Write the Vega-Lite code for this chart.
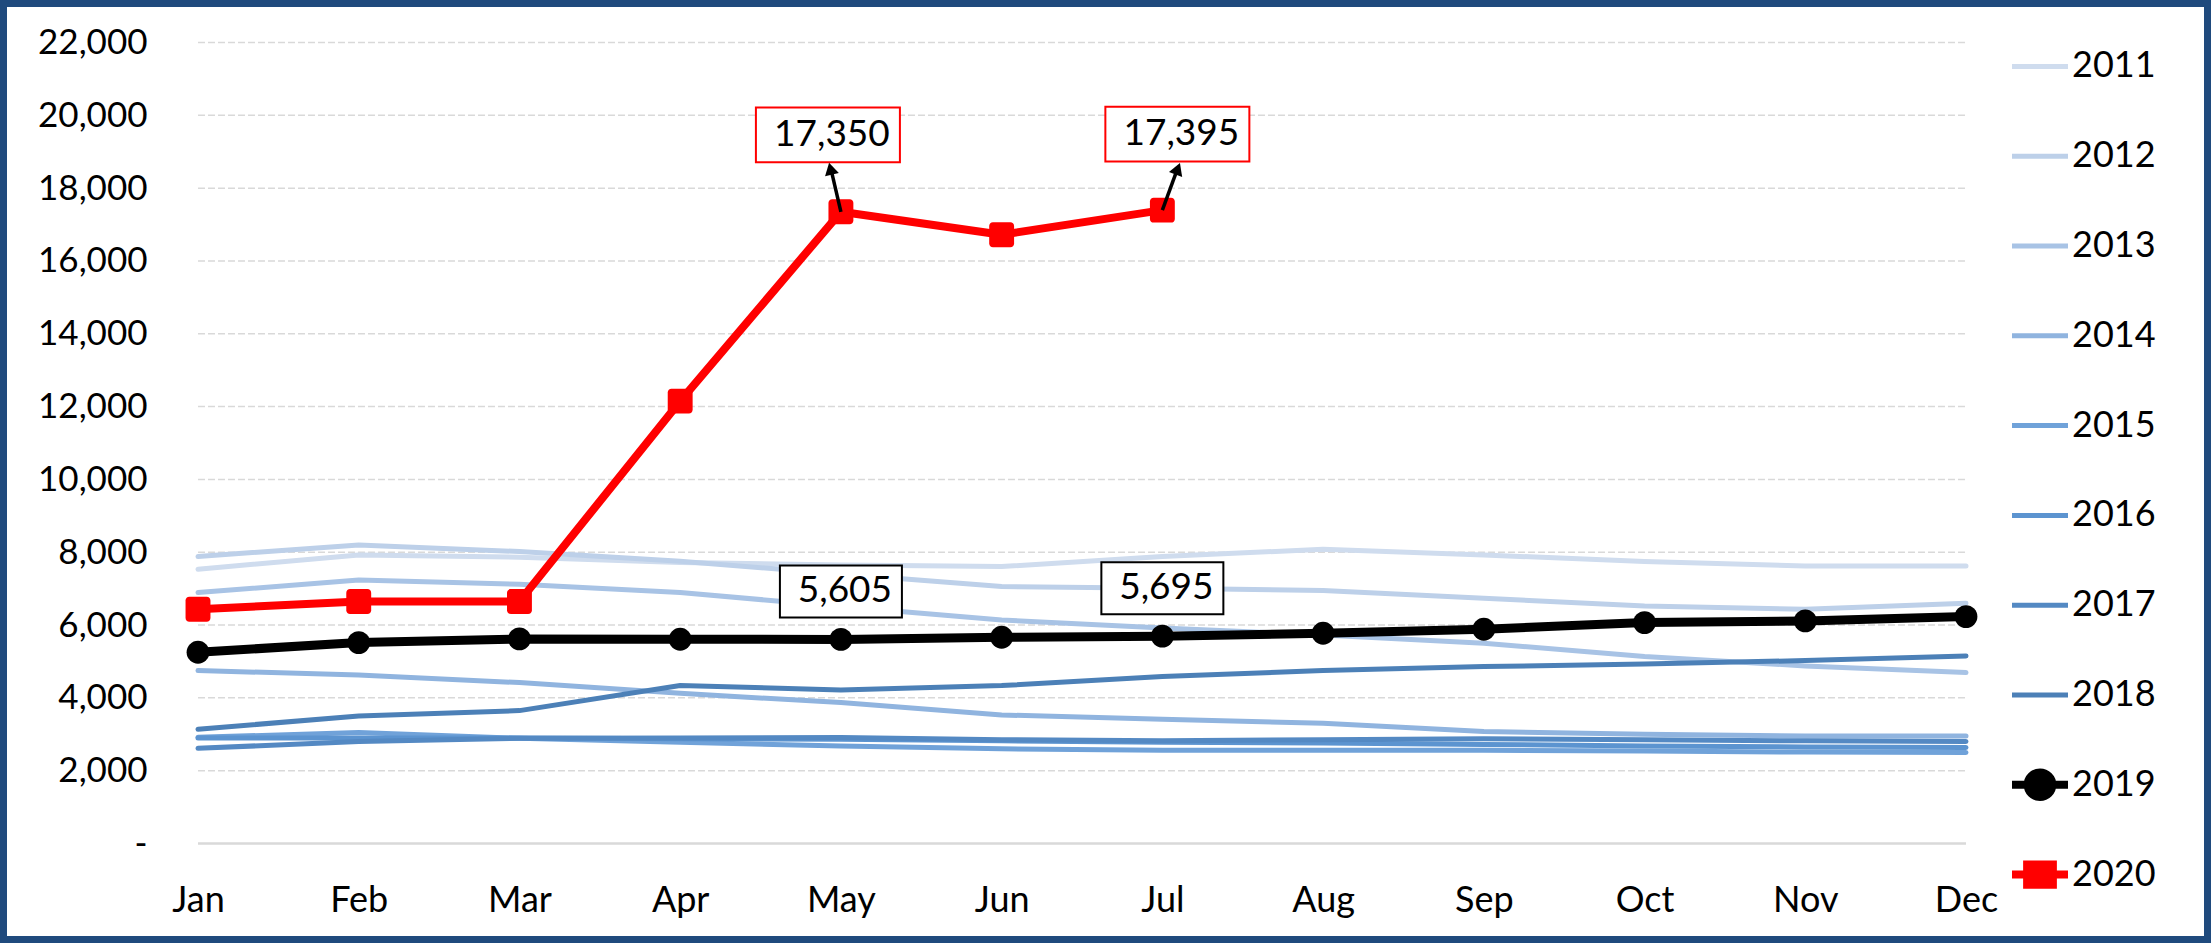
{
  "$schema": "https://vega.github.io/schema/vega-lite/v6.json",
  "width": 2211,
  "height": 943,
  "autosize": {"type": "none"},
  "padding": 0,
  "background": "white",
  "config": {
    "view": {"stroke": "#1F4A7D", "strokeWidth": 14, "fill": "white"},
    "font": "Lato"
  },
  "datasets": {
    "grid": [{"v": 2000}, {"v": 4000}, {"v": 6000}, {"v": 8000}, {"v": 10000}, {"v": 12000}, {"v": 14000}, {"v": 16000}, {"v": 18000}, {"v": 20000}, {"v": 22000}],
    "d": [
      {"year": 2011, "m": 1, "month": "Jan", "v": 7533}, {"year": 2011, "m": 2, "month": "Feb", "v": 7927}, {"year": 2011, "m": 3, "month": "Mar", "v": 7863}, {"year": 2011, "m": 4, "month": "Apr", "v": 7716}, {"year": 2011, "m": 5, "month": "May", "v": 7652}, {"year": 2011, "m": 6, "month": "Jun", "v": 7606}, {"year": 2011, "m": 7, "month": "Jul", "v": 7881}, {"year": 2011, "m": 8, "month": "Aug", "v": 8082}, {"year": 2011, "m": 9, "month": "Sep", "v": 7927}, {"year": 2011, "m": 10, "month": "Oct", "v": 7744}, {"year": 2011, "m": 11, "month": "Nov", "v": 7625}, {"year": 2011, "m": 12, "month": "Dec", "v": 7625},
      {"year": 2012, "m": 1, "month": "Jan", "v": 7881}, {"year": 2012, "m": 2, "month": "Feb", "v": 8201}, {"year": 2012, "m": 3, "month": "Mar", "v": 8018}, {"year": 2012, "m": 4, "month": "Apr", "v": 7750}, {"year": 2012, "m": 5, "month": "May", "v": 7400}, {"year": 2012, "m": 6, "month": "Jun", "v": 7057}, {"year": 2012, "m": 7, "month": "Jul", "v": 7011}, {"year": 2012, "m": 8, "month": "Aug", "v": 6947}, {"year": 2012, "m": 9, "month": "Sep", "v": 6736}, {"year": 2012, "m": 10, "month": "Oct", "v": 6526}, {"year": 2012, "m": 11, "month": "Nov", "v": 6434}, {"year": 2012, "m": 12, "month": "Dec", "v": 6600},
      {"year": 2013, "m": 1, "month": "Jan", "v": 6892}, {"year": 2013, "m": 2, "month": "Feb", "v": 7240}, {"year": 2013, "m": 3, "month": "Mar", "v": 7121}, {"year": 2013, "m": 4, "month": "Apr", "v": 6892}, {"year": 2013, "m": 5, "month": "May", "v": 6507}, {"year": 2013, "m": 6, "month": "Jun", "v": 6141}, {"year": 2013, "m": 7, "month": "Jul", "v": 5920}, {"year": 2013, "m": 8, "month": "Aug", "v": 5729}, {"year": 2013, "m": 9, "month": "Sep", "v": 5500}, {"year": 2013, "m": 10, "month": "Oct", "v": 5134}, {"year": 2013, "m": 11, "month": "Nov", "v": 4877}, {"year": 2013, "m": 12, "month": "Dec", "v": 4694},
      {"year": 2014, "m": 1, "month": "Jan", "v": 4749}, {"year": 2014, "m": 2, "month": "Feb", "v": 4630}, {"year": 2014, "m": 3, "month": "Mar", "v": 4419}, {"year": 2014, "m": 4, "month": "Apr", "v": 4126}, {"year": 2014, "m": 5, "month": "May", "v": 3870}, {"year": 2014, "m": 6, "month": "Jun", "v": 3531}, {"year": 2014, "m": 7, "month": "Jul", "v": 3412}, {"year": 2014, "m": 8, "month": "Aug", "v": 3302}, {"year": 2014, "m": 9, "month": "Sep", "v": 3073}, {"year": 2014, "m": 10, "month": "Oct", "v": 3000}, {"year": 2014, "m": 11, "month": "Nov", "v": 2950}, {"year": 2014, "m": 12, "month": "Dec", "v": 2950},
      {"year": 2015, "m": 1, "month": "Jan", "v": 2918}, {"year": 2015, "m": 2, "month": "Feb", "v": 3046}, {"year": 2015, "m": 3, "month": "Mar", "v": 2890}, {"year": 2015, "m": 4, "month": "Apr", "v": 2780}, {"year": 2015, "m": 5, "month": "May", "v": 2680}, {"year": 2015, "m": 6, "month": "Jun", "v": 2600}, {"year": 2015, "m": 7, "month": "Jul", "v": 2560}, {"year": 2015, "m": 8, "month": "Aug", "v": 2560}, {"year": 2015, "m": 9, "month": "Sep", "v": 2560}, {"year": 2015, "m": 10, "month": "Oct", "v": 2540}, {"year": 2015, "m": 11, "month": "Nov", "v": 2510}, {"year": 2015, "m": 12, "month": "Dec", "v": 2500},
      {"year": 2016, "m": 1, "month": "Jan", "v": 2900}, {"year": 2016, "m": 2, "month": "Feb", "v": 2900}, {"year": 2016, "m": 3, "month": "Mar", "v": 2900}, {"year": 2016, "m": 4, "month": "Apr", "v": 2880}, {"year": 2016, "m": 5, "month": "May", "v": 2860}, {"year": 2016, "m": 6, "month": "Jun", "v": 2820}, {"year": 2016, "m": 7, "month": "Jul", "v": 2780}, {"year": 2016, "m": 8, "month": "Aug", "v": 2760}, {"year": 2016, "m": 9, "month": "Sep", "v": 2720}, {"year": 2016, "m": 10, "month": "Oct", "v": 2680}, {"year": 2016, "m": 11, "month": "Nov", "v": 2650}, {"year": 2016, "m": 12, "month": "Dec", "v": 2634},
      {"year": 2017, "m": 1, "month": "Jan", "v": 2615}, {"year": 2017, "m": 2, "month": "Feb", "v": 2799}, {"year": 2017, "m": 3, "month": "Mar", "v": 2890}, {"year": 2017, "m": 4, "month": "Apr", "v": 2900}, {"year": 2017, "m": 5, "month": "May", "v": 2910}, {"year": 2017, "m": 6, "month": "Jun", "v": 2850}, {"year": 2017, "m": 7, "month": "Jul", "v": 2820}, {"year": 2017, "m": 8, "month": "Aug", "v": 2850}, {"year": 2017, "m": 9, "month": "Sep", "v": 2880}, {"year": 2017, "m": 10, "month": "Oct", "v": 2850}, {"year": 2017, "m": 11, "month": "Nov", "v": 2820}, {"year": 2017, "m": 12, "month": "Dec", "v": 2800},
      {"year": 2018, "m": 1, "month": "Jan", "v": 3137}, {"year": 2018, "m": 2, "month": "Feb", "v": 3504}, {"year": 2018, "m": 3, "month": "Mar", "v": 3650}, {"year": 2018, "m": 4, "month": "Apr", "v": 4337}, {"year": 2018, "m": 5, "month": "May", "v": 4218}, {"year": 2018, "m": 6, "month": "Jun", "v": 4337}, {"year": 2018, "m": 7, "month": "Jul", "v": 4584}, {"year": 2018, "m": 8, "month": "Aug", "v": 4749}, {"year": 2018, "m": 9, "month": "Sep", "v": 4859}, {"year": 2018, "m": 10, "month": "Oct", "v": 4932}, {"year": 2018, "m": 11, "month": "Nov", "v": 5024}, {"year": 2018, "m": 12, "month": "Dec", "v": 5152},
      {"year": 2019, "m": 1, "month": "Jan", "v": 5253}, {"year": 2019, "m": 2, "month": "Feb", "v": 5518}, {"year": 2019, "m": 3, "month": "Mar", "v": 5619}, {"year": 2019, "m": 4, "month": "Apr", "v": 5610}, {"year": 2019, "m": 5, "month": "May", "v": 5605}, {"year": 2019, "m": 6, "month": "Jun", "v": 5665}, {"year": 2019, "m": 7, "month": "Jul", "v": 5695}, {"year": 2019, "m": 8, "month": "Aug", "v": 5775}, {"year": 2019, "m": 9, "month": "Sep", "v": 5885}, {"year": 2019, "m": 10, "month": "Oct", "v": 6068}, {"year": 2019, "m": 11, "month": "Nov", "v": 6114}, {"year": 2019, "m": 12, "month": "Dec", "v": 6233},
      {"year": 2020, "m": 1, "month": "Jan", "v": 6434}, {"year": 2020, "m": 2, "month": "Feb", "v": 6645}, {"year": 2020, "m": 3, "month": "Mar", "v": 6645}, {"year": 2020, "m": 4, "month": "Apr", "v": 12150}, {"year": 2020, "m": 5, "month": "May", "v": 17350}, {"year": 2020, "m": 6, "month": "Jun", "v": 16720}, {"year": 2020, "m": 7, "month": "Jul", "v": 17395}
    ]
  },
  "layer": [
    {
      "data": {"name": "grid"},
      "mark": {"type": "rule", "stroke": "#d9d9d9", "strokeWidth": 1.5, "strokeDash": [7, 3]},
      "encoding": {
        "y": {
          "field": "v", "type": "quantitative",
          "scale": {"domain": [-2732.8, 23167.3], "nice": false, "zero": false},
          "axis": {
            "title": null, "orient": "left", "offset": -147,
            "values": [0, 2000, 4000, 6000, 8000, 10000, 12000, 14000, 16000, 18000, 20000, 22000],
            "labelExpr": "datum.value == 0 ? '-\u00a0\u00a0' : format(datum.value, ',')",
            "domain": false, "ticks": false, "tickSize": 0, "grid": false, "labelPadding": 0,
            "labelFont": "Lato", "labelFontSize": 35, "labelColor": "black",
            "labelAlign": "right", "labelBaseline": "middle", "labelFlush": false, "labelOverlap": false
          }
        },
        "x": {
          "datum": 1, "type": "quantitative",
          "scale": {"domain": [-0.2319, 13.5243], "nice": false, "zero": false},
          "axis": {
            "title": null, "orient": "bottom", "offset": -43,
            "values": [1, 2, 3, 4, 5, 6, 7, 8, 9, 10, 11, 12],
            "labelExpr": "['Jan','Feb','Mar','Apr','May','Jun','Jul','Aug','Sep','Oct','Nov','Dec'][datum.value - 1]",
            "domain": false, "ticks": false, "tickSize": 0, "grid": false, "labelPadding": 0,
            "labelFont": "Lato", "labelFontSize": 36, "labelColor": "black",
            "labelBaseline": "middle", "labelFlush": false, "labelOverlap": false
          }
        },
        "x2": {"datum": 12}
      }
    },
    {
      "data": {"values": [{"v": 0}]},
      "mark": {"type": "rule", "stroke": "#d9d9d9", "strokeWidth": 2.5},
      "encoding": {
        "y": {"field": "v", "type": "quantitative"},
        "x": {"datum": 1, "type": "quantitative"},
        "x2": {"datum": 12}
      }
    },
    {
      "data": {"name": "d"},
      "transform": [{"filter": "datum.year <= 2018"}],
      "mark": {"type": "line", "strokeWidth": 5, "strokeCap": "round", "strokeJoin": "round"},
      "encoding": {
        "x": {"field": "m", "type": "quantitative"},
        "y": {"field": "v", "type": "quantitative"},
        "color": {
          "field": "year", "type": "nominal",
          "scale": {
            "domain": [2011, 2012, 2013, 2014, 2015, 2016, 2017, 2018, 2019, 2020],
            "range": ["#cfdcee", "#bdd0e9", "#a8c3e5", "#90b4df", "#70a2d9", "#5c94d0", "#5489c3", "#4c80b7", "#000000", "#ff0000"]
          },
          "legend": {
            "orient": "none", "legendX": 2022, "legendY": 48.4, "title": null, "padding": 0,
            "symbolType": "stroke", "symbolSize": 3136, "symbolStrokeWidth": 5,
            "labelFont": "Lato", "labelFontSize": 36, "labelColor": "black", "labelOffset": 14,
            "gridAlign": "all", "rowPadding": 31.8,
            "encode": {
              "symbols": {
                "update": {
                  "shape": {"signal": "datum.value == 2019 ? 'M-1,0H1M-0.44,0A0.44,0.44 0 1,1 0.44,0A0.44,0.44 0 1,1 -0.44,0Z' : datum.value == 2020 ? 'M-1,0H1M-0.46,-0.36H0.46V0.36H-0.46Z' : 'stroke'"},
                  "fill": {"signal": "datum.value == 2019 ? '#000000' : datum.value == 2020 ? '#ff0000' : 'transparent'"},
                  "stroke": {"signal": "scale('color', datum.value)"},
                  "strokeWidth": {"signal": "datum.value >= 2019 ? 8 : 5"},
                  "opacity": {"value": 1}
                }
              }
            }
          }
        }
      }
    },
    {
      "data": {"name": "d"},
      "transform": [{"filter": "datum.year == 2019"}],
      "mark": {"type": "line", "strokeWidth": 9, "strokeJoin": "round"},
      "encoding": {
        "x": {"field": "m", "type": "quantitative"},
        "y": {"field": "v", "type": "quantitative"},
        "color": {"field": "year", "type": "nominal"}
      }
    },
    {
      "data": {"name": "d"},
      "transform": [{"filter": "datum.year == 2019"}],
      "mark": {"type": "point", "filled": true, "shape": "circle", "size": 520, "opacity": 1},
      "encoding": {
        "x": {"field": "m", "type": "quantitative"},
        "y": {"field": "v", "type": "quantitative"},
        "color": {"field": "year", "type": "nominal"}
      }
    },
    {
      "data": {"name": "d"},
      "transform": [{"filter": "datum.year == 2020"}],
      "mark": {"type": "line", "strokeWidth": 8, "strokeJoin": "round"},
      "encoding": {
        "x": {"field": "m", "type": "quantitative"},
        "y": {"field": "v", "type": "quantitative"},
        "color": {"field": "year", "type": "nominal"}
      }
    },
    {
      "data": {"name": "d"},
      "transform": [{"filter": "datum.year == 2020"}],
      "mark": {"type": "point", "filled": true, "size": 620, "opacity": 1,
        "shape": "M-0.7,-1H0.7A0.3,0.3 0 0 1 1,-0.7V0.7A0.3,0.3 0 0 1 0.7,1H-0.7A0.3,0.3 0 0 1 -1,0.7V-0.7A0.3,0.3 0 0 1 -0.7,-1Z"},
      "encoding": {
        "x": {"field": "m", "type": "quantitative"},
        "y": {"field": "v", "type": "quantitative"},
        "color": {"field": "year", "type": "nominal"}
      }
    },
    {
      "data": {"name": "d"},
      "transform": [{"filter": "datum.year == 2019 && (datum.m == 5 || datum.m == 7)"}],
      "mark": {"type": "point", "shape": "M-1,-0.426H1V0.426H-1Z", "size": 14884, "fill": "white", "fillOpacity": 1, "stroke": "black", "strokeWidth": 2, "opacity": 1, "yOffset": -48},
      "encoding": {
        "x": {"field": "m", "type": "quantitative"},
        "y": {"field": "v", "type": "quantitative"}
      }
    },
    {
      "data": {"name": "d"},
      "transform": [{"filter": "datum.year == 2019 && (datum.m == 5 || datum.m == 7)"}],
      "mark": {"type": "text", "font": "Lato", "fontSize": 37, "color": "black", "dx": 4, "dy": -48, "align": "center", "baseline": "middle"},
      "encoding": {
        "x": {"field": "m", "type": "quantitative"},
        "y": {"field": "v", "type": "quantitative"},
        "text": {"field": "v", "type": "quantitative", "format": ","}
      }
    },
    {
      "data": {"name": "d"},
      "transform": [{"filter": "datum.year == 2020 && datum.m == 5"}],
      "mark": {"type": "point", "shape": "M-1,-0.38H1V0.38H-1Z", "size": 20736, "fill": "white", "fillOpacity": 1, "stroke": "#ff0000", "strokeWidth": 2, "opacity": 1, "xOffset": -13, "yOffset": -77},
      "encoding": {
        "x": {"field": "m", "type": "quantitative"},
        "y": {"field": "v", "type": "quantitative"}
      }
    },
    {
      "data": {"name": "d"},
      "transform": [{"filter": "datum.year == 2020 && datum.m == 7"}],
      "mark": {"type": "point", "shape": "M-1,-0.38H1V0.38H-1Z", "size": 20736, "fill": "white", "fillOpacity": 1, "stroke": "#ff0000", "strokeWidth": 2, "opacity": 1, "xOffset": 15, "yOffset": -76},
      "encoding": {
        "x": {"field": "m", "type": "quantitative"},
        "y": {"field": "v", "type": "quantitative"}
      }
    },
    {
      "data": {"name": "d"},
      "transform": [{"filter": "datum.year == 2020 && datum.m == 5"}],
      "mark": {"type": "rule", "stroke": "black", "strokeWidth": 3.5, "x2Offset": -10, "y2Offset": -43},
      "encoding": {
        "x": {"field": "m", "type": "quantitative"},
        "y": {"field": "v", "type": "quantitative"},
        "x2": {"field": "m"},
        "y2": {"field": "v"}
      }
    },
    {
      "data": {"name": "d"},
      "transform": [{"filter": "datum.year == 2020 && datum.m == 7"}],
      "mark": {"type": "rule", "stroke": "black", "strokeWidth": 3.5, "x2Offset": 15, "y2Offset": -41},
      "encoding": {
        "x": {"field": "m", "type": "quantitative"},
        "y": {"field": "v", "type": "quantitative"},
        "x2": {"field": "m"},
        "y2": {"field": "v"}
      }
    },
    {
      "data": {"name": "d"},
      "transform": [{"filter": "datum.year == 2020 && datum.m == 5"}],
      "mark": {"type": "point", "shape": "triangle-up", "size": 200, "filled": true, "color": "black", "opacity": 1, "angle": -13.5, "xOffset": -10.4, "yOffset": -43.2},
      "encoding": {
        "x": {"field": "m", "type": "quantitative"},
        "y": {"field": "v", "type": "quantitative"}
      }
    },
    {
      "data": {"name": "d"},
      "transform": [{"filter": "datum.year == 2020 && datum.m == 7"}],
      "mark": {"type": "point", "shape": "triangle-up", "size": 200, "filled": true, "color": "black", "opacity": 1, "angle": 21, "xOffset": 15.4, "yOffset": -41.4},
      "encoding": {
        "x": {"field": "m", "type": "quantitative"},
        "y": {"field": "v", "type": "quantitative"}
      }
    },
    {
      "data": {"name": "d"},
      "transform": [{"filter": "datum.year == 2020 && datum.m == 5"}],
      "mark": {"type": "text", "font": "Lato", "fontSize": 37, "color": "black", "dx": -9, "dy": -77, "align": "center", "baseline": "middle"},
      "encoding": {
        "x": {"field": "m", "type": "quantitative"},
        "y": {"field": "v", "type": "quantitative"},
        "text": {"field": "v", "type": "quantitative", "format": ","}
      }
    },
    {
      "data": {"name": "d"},
      "transform": [{"filter": "datum.year == 2020 && datum.m == 7"}],
      "mark": {"type": "text", "font": "Lato", "fontSize": 37, "color": "black", "dx": 19, "dy": -76, "align": "center", "baseline": "middle"},
      "encoding": {
        "x": {"field": "m", "type": "quantitative"},
        "y": {"field": "v", "type": "quantitative"},
        "text": {"field": "v", "type": "quantitative", "format": ","}
      }
    }
  ]
}
